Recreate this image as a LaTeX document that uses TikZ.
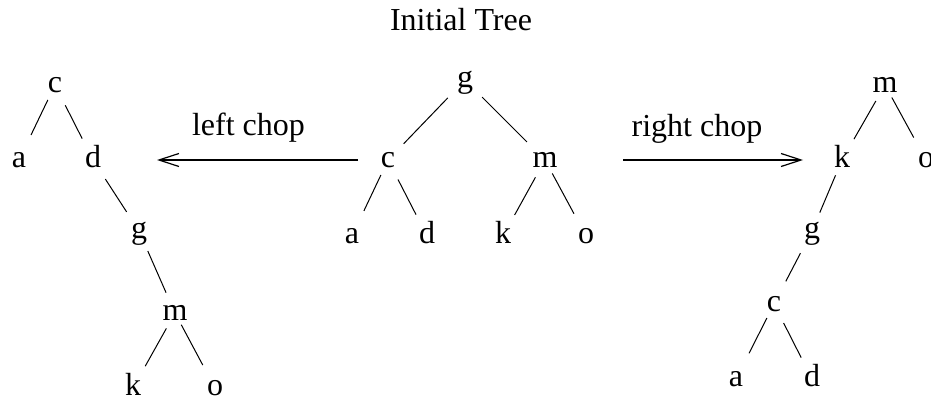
\documentclass[tikz,border=0pt]{standalone}
\usepackage{fontspec}
\setmainfont{Liberation Serif}
\usetikzlibrary{arrows.meta}
\begin{document}
\begin{tikzpicture}[x=1pt,y=-1pt,
  lbl/.style={inner sep=0pt, font=\fontsize{32}{38}\selectfont, text height=14.7pt, text depth=0pt},
  txt/.style={inner sep=0pt, font=\fontsize{32}{38}\selectfont, anchor=base},
  treeline/.style={line width=1pt},
  chop/.style={line width=2pt, -{Straight Barb[length=20pt,width=13pt,line width=1.2pt]}}]
\useasboundingbox (0,0) rectangle (931,398);
\newcommand\treeedge[4]{\draw[treeline,shorten <=#3pt,shorten >=#4pt] (#1.center) -- (#2.center);}

% title
\node[txt] (title) at (461,31) {Initial Tree};

% middle tree
\node[lbl] (g0) at (465,80) {g};
\node[lbl] (c0) at (388,160) {c};
\node[lbl] (m0) at (545,160) {m};
\node[lbl] (a0) at (352,236) {a};
\node[lbl] (d0) at (427,236) {d};
\node[lbl] (k0) at (503,236) {k};
\node[lbl] (o0) at (586,236) {o};
\treeedge{g0}{c0}{24.8}{22.6}
\treeedge{g0}{m0}{24.2}{25.6}
\treeedge{c0}{a0}{16.6}{27.8}
\treeedge{c0}{d0}{21.9}{24}
\treeedge{m0}{k0}{19.8}{24}
\treeedge{m0}{o0}{15.3}{25.3}

% left tree
\node[lbl] (c1) at (55,85) {c};
\node[lbl] (a1) at (19,160) {a};
\node[lbl] (d1) at (93,160) {d};
\node[lbl] (g1) at (139,231) {g};
\node[lbl] (m1) at (175,313) {m};
\node[lbl] (k1) at (133,388) {k};
\node[lbl] (o1) at (215,388) {o};
\treeedge{c1}{a1}{16.6}{27.8}
\treeedge{c1}{d1}{22.7}{24}
\treeedge{d1}{g1}{22.7}{22.8}
\treeedge{g1}{m1}{21.9}{22.2}
\treeedge{m1}{k1}{17.7}{25}
\treeedge{m1}{o1}{13.3}{26}

% right tree
\node[lbl] (m2) at (885,85) {m};
\node[lbl] (k2) at (842,160) {k};
\node[lbl] (o2) at (926,160) {o};
\node[lbl] (g2) at (812,231) {g};
\node[lbl] (c2) at (774,304) {c};
\node[lbl] (a2) at (736,379) {a};
\node[lbl] (d2) at (812,379) {d};
\treeedge{m2}{k2}{18.4}{24}
\treeedge{m2}{o2}{14.3}{25.6}
\treeedge{k2}{g2}{16.6}{20}
\treeedge{g2}{c2}{25}{25.6}
\treeedge{c2}{a2}{15.7}{28.8}
\treeedge{c2}{d2}{21.3}{24}

% chop arrows
\draw[chop, shorten <=30pt, shorten >=64pt] (c0.center) -- (d1.center);
\draw[chop, shorten <=78pt, shorten >=39pt] (m0.center) -- (k2.center);
\node[txt] (lchop) at (248.5,136) {left chop};
\node[txt] (rchop) at (697,137) {right chop};
\end{tikzpicture}
\end{document}
